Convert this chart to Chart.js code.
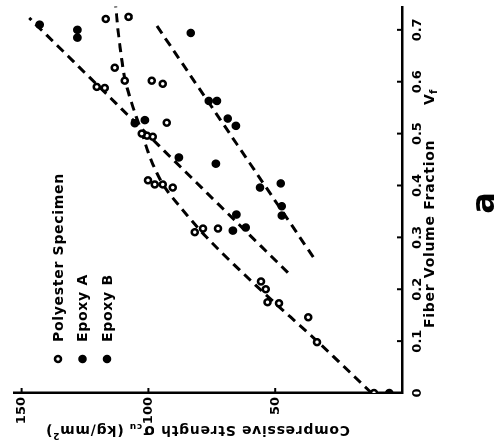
<!DOCTYPE html>
<html>
<head>
<meta charset="utf-8">
<script src="https://cdn.jsdelivr.net/npm/chart.js@4.4.1/dist/chart.umd.min.js"></script>
<style>
  html, body { margin: 0; padding: 0; background: #fff; overflow: hidden; }
  /* the figure is printed turned on its side: draw upright, then turn the block */
  #sheet {
    position: absolute; left: 0; top: 0;
    width: 446px; height: 500px;
    transform-origin: 0 0;
    transform: translate(0, 446px) rotate(-90deg);
  }
</style>
</head>
<body>
<div id="sheet"><canvas id="strengthChart" width="446" height="500"></canvas></div>
<script>
// fiber volume fraction (Vf) and compressive strength (kg/mm2) per specimen
const polyVf = [0, 0.098, 0.146, 0.173, 0.175, 0.2, 0.215, 0.31, 0.317, 0.317, 0.396, 0.402, 0.402, 0.41,
  0.494, 0.496, 0.5, 0.521, 0.588, 0.59, 0.596, 0.602, 0.602, 0.627, 0.721, 0.725];
const polyS = [11, 33.5, 37, 48.5, 53, 53.7, 55.6, 81.7, 78.5, 72.6, 90.4, 94.3, 97.5, 100.2,
  98.3, 100.6, 102.6, 92.8, 117.2, 120.4, 94.3, 98.7, 109.3, 113.3, 116.8, 107.8];

const epoxyAVf = [0, 0.313, 0.319, 0.344, 0.454, 0.52, 0.526, 0.685, 0.7, 0.71];
const epoxyAS = [5, 66.7, 61.6, 65.3, 88, 105.4, 101.4, 128, 128, 142.9];

const epoxyBVf = [0.342, 0.36, 0.396, 0.404, 0.442, 0.515, 0.529, 0.563, 0.563, 0.694];
const epoxyBS = [47.4, 47.4, 56, 47.8, 73.4, 65.5, 68.7, 76.2, 73, 83.3];

// hand-drawn trend lines
const polyFitVf = [0, 0.1, 0.2, 0.3, 0.35, 0.4, 0.45, 0.5, 0.55, 0.6, 0.68, 0.75];
const polyFitS = [12, 33.5, 56, 77, 86, 94, 99, 102.5, 106, 109, 111.5, 113];
const epoxyAFitVf = [0.232, 0.723];
const epoxyAFitS = [45, 147];
const epoxyBFitVf = [0.262, 0.708];
const epoxyBFitS = [35, 96.7];

const xTicks = [0, 0.1, 0.2, 0.3, 0.4, 0.5, 0.6, 0.7];
const yTicks = [50, 100, 150];

const seriesLabels = ['Polyester Specimen', 'Epoxy A', 'Epoxy B'];

const INK = '#000';
const FONT = '"DejaVu Sans", sans-serif';

const toPoints = (xs, ys) => xs.map((x, i) => ({ x, y: ys[i] }));

const markerStyle = (open) => ({
  pointStyle: 'circle',
  pointRadius: open ? 3 : 3.5,
  pointBorderWidth: open ? 2.5 : 1.6,
  pointBackgroundColor: open ? '#fff' : INK,
  pointBorderColor: INK,
  showLine: false,
  order: 0,
});

const fitStyle = {
  showLine: true,
  pointRadius: 0,
  borderColor: INK,
  borderWidth: 3,
  borderDash: [9, 6],
  fill: false,
  order: 1,
};

// ticks, legend, axis titles and the panel letter
const paperFrame = {
  id: 'paperFrame',
  afterDraw(chart) {
    const { ctx, chartArea } = chart;
    const xs = chart.scales.x;
    const ys = chart.scales.y;
    ctx.save();
    ctx.strokeStyle = INK;
    ctx.fillStyle = INK;

    // short ticks pointing into the plot
    ctx.lineWidth = 2;
    xTicks.forEach((v) => {
      const px = xs.getPixelForValue(v);
      ctx.beginPath();
      ctx.moveTo(px, chartArea.bottom);
      ctx.lineTo(px, chartArea.bottom - 5);
      ctx.stroke();
    });
    yTicks.forEach((v) => {
      const py = ys.getPixelForValue(v);
      ctx.beginPath();
      ctx.moveTo(chartArea.left, py);
      ctx.lineTo(chartArea.left + 5, py);
      ctx.stroke();
    });

    ctx.font = 'bold 14px ' + FONT;
    ctx.letterSpacing = '0.7px';
    ctx.textBaseline = 'middle';
    ctx.textAlign = 'left';

    // legend, stacked in the upper left of the plot
    chart.data.datasets.slice(0, 3).forEach((ds, i) => {
      const cy = 58 + 24.5 * i;
      ctx.beginPath();
      ctx.arc(87, cy, ds.pointRadius, 0, Math.PI * 2);
      ctx.fillStyle = ds.pointBackgroundColor;
      ctx.fill();
      ctx.lineWidth = ds.pointBorderWidth;
      ctx.stroke();
      ctx.fillStyle = INK;
      ctx.fillText(ds.label, 104, cy + 1);
    });

    // x axis title with V subscript f
    ctx.fillText('Fiber Volume Fraction', 118, 430);
    ctx.fillText('V', 341, 430);
    ctx.font = 'bold 10px ' + FONT;
    ctx.fillText('f', 352, 434);

    // y axis title, reading upwards
    ctx.save();
    ctx.translate(16, 350);
    ctx.rotate(-Math.PI / 2);
    let pos = 0;
    const part = (text, font, dy) => {
      ctx.font = font;
      ctx.fillText(text, pos, dy);
      pos += ctx.measureText(text).width;
    };
    part('Compressive Strength ', 'bold 14px ' + FONT, 0);
    part('\u03c3', 'bold 15px ' + FONT, 0);
    part('cu', 'bold 9px ' + FONT, 4);
    part(' (kg/mm', 'bold 14px ' + FONT, 0);
    part('2', 'bold 9px ' + FONT, -5);
    part(')', 'bold 14px ' + FONT, 0);
    ctx.restore();

    // panel letter
    ctx.letterSpacing = '0px';
    ctx.font = 'bold 32px ' + FONT;
    ctx.textAlign = 'center';
    ctx.fillText('a', 243, 486);
    ctx.restore();
  },
};

const ctx = document.getElementById('strengthChart').getContext('2d');
new Chart(ctx, {
  type: 'scatter',
  data: {
    datasets: [
      { label: seriesLabels[0], data: toPoints(polyVf, polyS), ...markerStyle(true) },
      { label: seriesLabels[1], data: toPoints(epoxyAVf, epoxyAS), ...markerStyle(false) },
      { label: seriesLabels[2], data: toPoints(epoxyBVf, epoxyBS), ...markerStyle(false) },
      { label: 'polyester trend', data: toPoints(polyFitVf, polyFitS), cubicInterpolationMode: 'monotone', ...fitStyle },
      { label: 'epoxy A trend', data: toPoints(epoxyAFitVf, epoxyAFitS), ...fitStyle },
      { label: 'epoxy B trend', data: toPoints(epoxyBFitVf, epoxyBFitS), ...fitStyle },
    ],
  },
  options: {
    responsive: false,
    animation: false,
    devicePixelRatio: 1,
    layout: { padding: { top: 14, right: 5, left: 0, bottom: 0 } },
    plugins: {
      legend: { display: false },
      tooltip: { enabled: false },
    },
    scales: {
      x: {
        type: 'linear',
        min: 0,
        max: 0.745,
        afterFit: (scale) => { scale.height = 98; },
        afterBuildTicks: (scale) => { scale.ticks = xTicks.map((value) => ({ value })); },
        border: { display: true, color: INK, width: 2.5 },
        grid: { drawOnChartArea: false, drawTicks: false },
        ticks: {
          autoSkip: false,
          maxRotation: 0,
          padding: 8,
          color: INK,
          font: { family: FONT, weight: 'bold', size: 13 },
          callback: (value) => String(value),
        },
      },
      y: {
        type: 'linear',
        min: 0,
        max: 153,
        afterFit: (scale) => { scale.width = 53; },
        afterBuildTicks: (scale) => { scale.ticks = yTicks.map((value) => ({ value })); },
        border: { display: true, color: INK, width: 2.5 },
        grid: { drawOnChartArea: false, drawTicks: false },
        ticks: {
          autoSkip: false,
          padding: 4,
          color: INK,
          font: { family: FONT, weight: 'bold', size: 13 },
          callback: (value) => String(value),
        },
      },
    },
  },
  plugins: [paperFrame],
});
</script>
</body>
</html>
